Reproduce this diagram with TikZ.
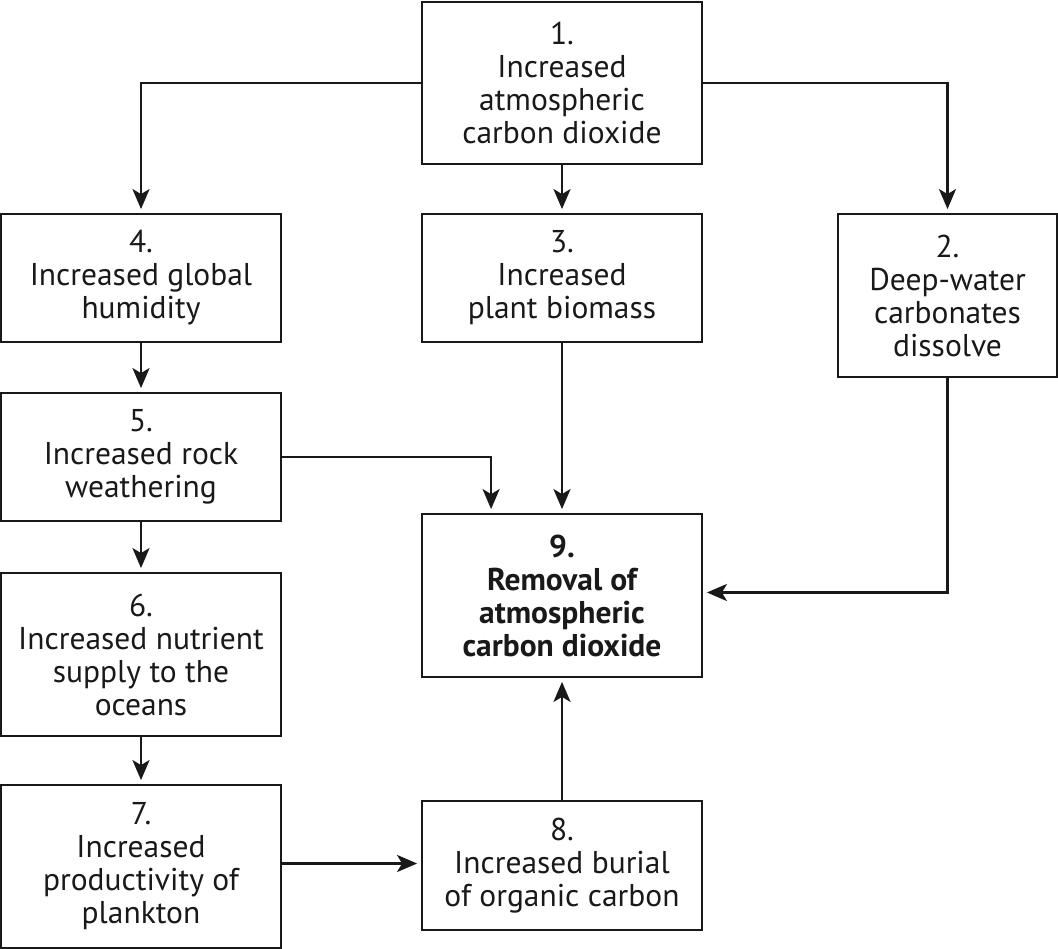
\documentclass[tikz,border=0pt]{standalone}
\usepackage{fontspec}
\setmainfont{PT Sans}
\usetikzlibrary{arrows.meta,calc}
\begin{document}
\begin{tikzpicture}[x=1pt,y=-1pt,
  box/.style={draw=black!90, line width=1.8pt, rectangle, inner sep=0pt, align=center,
    font=\fontsize{31.5}{33}\selectfont, text=black!90},
  arr/.style={line width=2.6pt, draw=black!90, -{Stealth[length=20pt,width=17pt,inset=5pt]}, shorten >=4pt},
  ln/.style={line width=2.6pt, draw=black!90}]
\useasboundingbox (0,0) rectangle (1058,949);
\node[box, minimum width=280pt, minimum height=162pt] (b1) at (562,83) {1.\\Increased\\atmospheric\\carbon dioxide};
\node[box, minimum width=280pt, minimum height=128pt] (b4) at (141,278) {4.\\Increased global\\humidity};
\node[box, minimum width=280pt, minimum height=128pt] (b3) at (562,278) {3.\\Increased\\plant biomass};
\node[box, minimum width=219pt, minimum height=163pt] (b2) at (947.5,295.5) {2.\\Deep-water\\carbonates\\dissolve};
\node[box, minimum width=280pt, minimum height=128pt] (b5) at (141,457) {5.\\Increased rock\\weathering};
\node[box, minimum width=280pt, minimum height=163pt, font=\fontsize{31.5}{33}\selectfont\bfseries] (b9) at (562,595.5) {9.\\Removal of\\atmospheric\\carbon dioxide};
\node[box, minimum width=280pt, minimum height=163pt] (b6) at (141,654.5) {6.\\Increased nutrient\\supply to the\\oceans};
\node[box, minimum width=280pt, minimum height=163pt] (b7) at (141,866.5) {7.\\Increased\\productivity of\\plankton};
\node[box, minimum width=280pt, minimum height=129pt] (b8) at (562,865.5) {8.\\Increased burial\\of organic carbon};
\coordinate (b9in) at ($(b9.north west)+(70,0)$);
\draw[arr] (b1.west) -| (b4.north);
\draw[arr] (b1.east) -| (b2.north);
\draw[arr] (b1.south) -- (b3.north);
\draw[arr] (b4.south) -- (b5.north);
\draw[arr] (b5.south) -- (b6.north);
\draw[arr] (b6.south) -- (b7.north);
\draw[arr] (b5.east) -| (b9in);
\draw[arr] (b3.south) -- (b9.north);
\draw[arr] (b2.south) |- ($(b9.east)+(0,-3)$);
\draw[arr] ($(b7.east)+(0,-3)$) -- ($(b7.east -| b8.west)+(0,-3)$);
\draw[arr] (b8.north) -- (b9.south);
\end{tikzpicture}
\end{document}
